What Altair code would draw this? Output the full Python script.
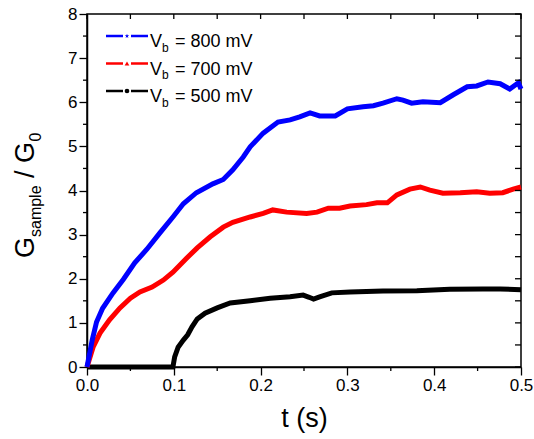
import altair as alt
import pandas as pd

# ---- data ----
t_800 = [0.000, 0.006, 0.011, 0.018, 0.030, 0.042, 0.055, 0.069, 0.084, 0.099, 0.111, 0.126,
         0.145, 0.157, 0.168, 0.180, 0.188, 0.203, 0.220, 0.234, 0.245, 0.257, 0.268, 0.286,
         0.300, 0.318, 0.330, 0.341, 0.357, 0.364, 0.374, 0.387, 0.407, 0.422, 0.438, 0.449,
         0.462, 0.476, 0.487, 0.497, 0.500]
g_800 = [0.00, 0.61, 1.02, 1.33, 1.68, 1.99, 2.36, 2.67, 3.04, 3.40, 3.70, 3.95,
         4.15, 4.25, 4.47, 4.76, 4.99, 5.30, 5.55, 5.60, 5.67, 5.76, 5.69, 5.69,
         5.85, 5.90, 5.92, 5.98, 6.08, 6.05, 5.98, 6.01, 5.99, 6.17, 6.35, 6.37,
         6.46, 6.42, 6.30, 6.44, 6.30]

t_700 = [0.000, 0.007, 0.015, 0.026, 0.038, 0.050, 0.061, 0.075, 0.088, 0.099, 0.115, 0.127,
         0.142, 0.157, 0.168, 0.188, 0.203, 0.214, 0.230, 0.253, 0.265, 0.278, 0.291, 0.303,
         0.322, 0.334, 0.346, 0.357, 0.372, 0.384, 0.395, 0.410, 0.430, 0.449, 0.464, 0.479,
         0.491, 0.500]
g_700 = [0.00, 0.45, 0.77, 1.07, 1.34, 1.56, 1.70, 1.81, 1.97, 2.15, 2.47, 2.70,
         2.95, 3.17, 3.28, 3.40, 3.48, 3.56, 3.51, 3.48, 3.51, 3.60, 3.60, 3.65,
         3.68, 3.72, 3.72, 3.90, 4.03, 4.08, 4.01, 3.94, 3.95, 3.97, 3.94, 3.95,
         4.03, 4.08]

t_500 = [0.000, 0.099, 0.101, 0.105, 0.111, 0.116, 0.121, 0.127, 0.136, 0.150, 0.165, 0.188,
         0.211, 0.234, 0.249, 0.256, 0.261, 0.268, 0.282, 0.303, 0.341, 0.380, 0.418, 0.456,
         0.476, 0.500]
g_500 = [0.00, 0.00, 0.23, 0.45, 0.61, 0.73, 0.91, 1.09, 1.22, 1.34, 1.45, 1.50,
         1.56, 1.59, 1.63, 1.58, 1.54, 1.59, 1.68, 1.70, 1.72, 1.73, 1.76, 1.77,
         1.77, 1.75]

series_names = ["800 mV", "700 mV", "500 mV"]
series_colors = ["#0000FF", "#FF0000", "#000000"]
STAR = "M0,-1L0.24,-0.33L0.95,-0.31L0.38,0.12L0.59,0.81L0,0.4L-0.59,0.81L-0.38,0.12L-0.95,-0.31L-0.24,-0.33Z"
series_shapes = [STAR, "triangle-up", "circle"]

x_major = [0.0, 0.1, 0.2, 0.3, 0.4, 0.5]
x_minor = [0.05, 0.15, 0.25, 0.35, 0.45]
y_major = [0, 1, 2, 3, 4, 5, 6, 7, 8]
y_minor = [0.5, 1.5, 2.5, 3.5, 4.5, 5.5, 6.5, 7.5]

FONT = "Liberation Sans"
W, H = 434, 353

frames = []
for name, ts, gs in [("800 mV", t_800, g_800), ("700 mV", t_700, g_700), ("500 mV", t_500, g_500)]:
    frames.append(pd.DataFrame({"t": ts, "G": gs, "series": name, "idx": range(len(ts))}))

xscale = alt.Scale(domain=[0, 0.5], nice=False, zero=False)
yscale = alt.Scale(domain=[0, 8], nice=False)

x_axis = alt.Axis(
    values=x_major, format=".1f", tickSize=8,
    title="t (s)", titleFontSize=27, titleFont=FONT, titleFontWeight="normal",
    titlePadding=12, titleColor="black",
    labelFontSize=17, labelFont=FONT, labelPadding=2, labelColor="black",
    tickColor="black", tickWidth=1.3, domainColor="black", domainWidth=1.5,
    grid=False, labelFlush=False, labelOverlap=False,
)
y_axis = alt.Axis(
    values=y_major, format="d", tickSize=8, title=None,
    labelFontSize=17, labelFont=FONT, labelPadding=2, labelColor="black",
    tickColor="black", tickWidth=1.3, domainColor="black", domainWidth=1.5,
    grid=False, labelFlush=False, labelOverlap=False,
)

lines = []
for k, name in enumerate(series_names):
    df = frames[k]
    lines.append(
        alt.Chart(df).mark_line(strokeWidth=5, color=series_colors[k]).encode(
            x=alt.X("t:Q", scale=xscale, axis=x_axis),
            y=alt.Y("G:Q", scale=yscale, axis=y_axis),
            order="idx:Q",
        )
    )
lines = lines[::-1]  # black first, blue on top

# minor ticks (outside, bottom/left) and inward ticks (top/right)
xmin_df = pd.DataFrame({"v": x_minor})
xall_df = pd.DataFrame({"v": x_major + x_minor})
ymin_df = pd.DataFrame({"v": y_minor})
yall_df = pd.DataFrame({"v": y_major + y_minor})
tk = dict(color="black", strokeWidth=1.3)
bottom_minor = alt.Chart(xmin_df).mark_rule(**tk).encode(
    x=alt.X("v:Q", scale=xscale), y=alt.value(H), y2=alt.value(H + 4))
left_minor = alt.Chart(ymin_df).mark_rule(**tk).encode(
    y=alt.Y("v:Q", scale=yscale), x=alt.value(0), x2=alt.value(-4))
top_ticks = alt.Chart(xall_df).mark_rule(**tk).encode(
    x=alt.X("v:Q", scale=xscale), y=alt.value(0), y2=alt.value(5))
right_ticks = alt.Chart(yall_df).mark_rule(**tk).encode(
    y=alt.Y("v:Q", scale=yscale), x=alt.value(W), x2=alt.value(W - 6))

# y title with subscripts (rotated text pieces)
one = pd.DataFrame({"a": [0]})
def rtext(txt, x, y, size):
    return alt.Chart(one).mark_text(
        text=txt, angle=270, align="left", baseline="alphabetic",
        font=FONT, fontSize=size, color="black").encode(x=alt.value(x), y=alt.value(y))

ytitle = [
    rtext("G", -53, 244, 27),
    rtext("sample", -46, 223, 16),
    rtext("/ G", -53, 164, 27),
    rtext("0", -46, 127.5, 16),
]

# legend
legend_layers = []
for k, (name, col, shp) in enumerate(zip(series_names, series_colors, series_shapes)):
    ly = 22 + 27.5 * k
    d1 = pd.DataFrame({"s": [name]})
    legend_layers.append(alt.Chart(d1).mark_rule(color=col, strokeWidth=2.5).encode(
        x=alt.value(19), x2=alt.value(36), y=alt.value(ly)))
    legend_layers.append(alt.Chart(d1).mark_rule(color=col, strokeWidth=2.5).encode(
        x=alt.value(44), x2=alt.value(61), y=alt.value(ly)))
    legend_layers.append(alt.Chart(d1).mark_point(shape=shp, filled=True, color=col, size=22, opacity=1).encode(
        x=alt.value(40), y=alt.value(ly)))
    legend_layers.append(alt.Chart(d1).mark_text(text="V", align="left", baseline="alphabetic",
        font=FONT, fontSize=18, color="black").encode(x=alt.value(63), y=alt.value(ly + 11)))
    legend_layers.append(alt.Chart(d1).mark_text(text="b", align="left", baseline="alphabetic",
        font=FONT, fontSize=12, color="black").encode(x=alt.value(75), y=alt.value(ly + 15.5)))
    legend_layers.append(alt.Chart(d1).mark_text(text="= " + name, align="left", baseline="alphabetic",
        font=FONT, fontSize=18, color="black").encode(x=alt.value(88), y=alt.value(ly + 11)))

chart = alt.layer(*lines, bottom_minor, left_minor, top_ticks, right_ticks, *ytitle, *legend_layers).properties(
    width=W, height=H,
    autosize=alt.AutoSizeParams(type="none"),
    padding={"left": 87, "top": 14, "right": 13, "bottom": 72},
    background="white",
).configure_view(stroke="black", strokeWidth=1.5)

chart.save("out.html", embed_options={"renderer": "svg", "actions": False})
